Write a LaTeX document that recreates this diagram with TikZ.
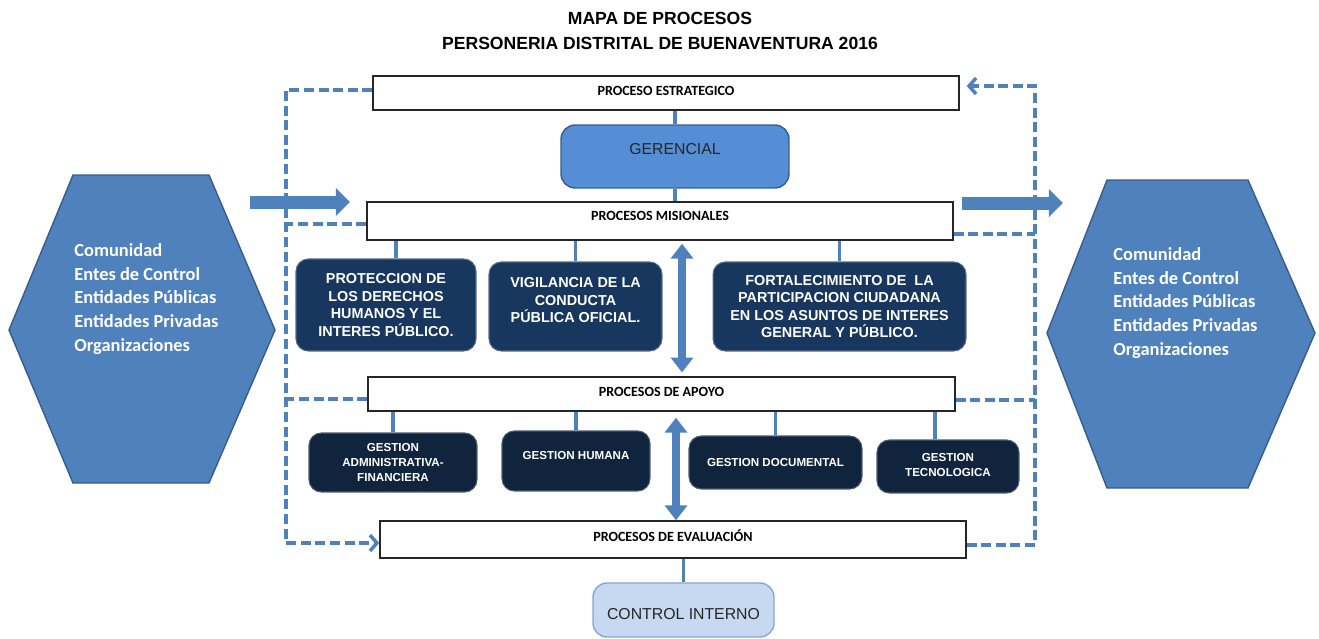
\documentclass[tikz,border=0pt]{standalone}
\usepackage{fontspec}
\setmainfont{Liberation Sans}
\newfontfamily\califont{Carlito}
\usepackage{tikz}
\usetikzlibrary{positioning,calc,arrows.meta}

\definecolor{procblue}{HTML}{4F81BD}
\definecolor{procblueD}{HTML}{385D8A}
\definecolor{gerblue}{HTML}{558ED5}
\definecolor{misnavy}{HTML}{17375E}
\definecolor{aponavy}{HTML}{10243E}
\definecolor{ctrlblue}{HTML}{C6D9F1}

\tikzset{
  titulo/.style={font=\bfseries\fontsize{10}{14.7}\selectfont, align=center, inner sep=0pt},
  banda/.style={draw=black!85, line width=0.8pt, fill=white, inner sep=0pt,
    font=\califont\bfseries\fontsize{8}{10}\selectfont},
  misbox/.style={draw=misnavy!75!white, line width=0.6pt, fill=misnavy, rounded corners=7pt,
    text=white, align=center, inner sep=0pt, font=\bfseries\fontsize{8.2}{9.9}\selectfont},
  apobox/.style={misbox, fill=aponavy, draw=aponavy!75!white,
    font=\bfseries\fontsize{6.6}{8.5}\selectfont},
  gerbox/.style={draw=procblueD, line width=0.8pt, fill=gerblue, rounded corners=8pt,
    text=black!85, inner sep=0pt, font=\fontsize{9}{10}\selectfont},
  ctrlbox/.style={gerbox, fill=ctrlblue, draw=procblue!70},
  hexa/.style={draw=procblueD, line width=0.8pt, fill=procblue},
  hextexto/.style={text=white, align=left, inner sep=0pt,
    font=\califont\bfseries\fontsize{10.5}{13.6}\selectfont},
  enlace/.style={procblue, line width=2.2pt},
  flecha/.style={procblue, line width=4.5pt,
    {Triangle[width=12.5pt,length=8.5pt]}-{Triangle[width=12.5pt,length=8.5pt]}},
  bloque/.style={procblue, line width=7.4pt, -{Triangle[width=15.5pt,length=8pt]}},
  guia/.style={procblue, line width=2pt, dash pattern=on 5.7pt off 2.6pt},
  guiaflecha/.style={guia, -{Straight Barb[length=4pt,width=9pt]}}
}

\begin{document}
\begin{tikzpicture}[x=0.02cm, y=-0.02cm]
  \useasboundingbox (0,0) rectangle (1319,639);

  % title
  \node[titulo] (tit) at (660,31) {MAPA DE PROCESOS\\PERSONERIA DISTRITAL DE BUENAVENTURA 2016};

  % process bands
  \node[banda, minimum width=11.72cm, minimum height=0.68cm, text depth=2.3pt] (estr) at (666,93) {PROCESO ESTRATEGICO};
  \node[banda, minimum width=11.72cm, minimum height=0.76cm, text depth=5.6pt] (mis) at (660,221) {PROCESOS MISIONALES};
  \node[banda, minimum width=11.74cm, minimum height=0.68cm, text depth=2.3pt] (apo) at (661.5,394) {PROCESOS DE APOYO};
  \node[banda, minimum width=11.72cm, minimum height=0.74cm, text depth=5pt] (eva) at (673,539.5) {PROCESOS DE EVALUACIÓN};

  % gerencial and control
  \node[gerbox, minimum width=4.56cm, minimum height=1.26cm, text depth=8.5pt] (ger) at (675,156.5) {GERENCIAL};
  \node[ctrlbox, minimum width=3.62cm, minimum height=1.08cm, text height=11pt] (ctrl) at (683.5,610) {CONTROL INTERNO};

  % misionales
  \node[misbox, minimum width=3.6cm, minimum height=1.84cm] (prot) at (386,305)
    {PROTECCION DE\\LOS DERECHOS\\HUMANOS Y EL\\INTERES PÚBLICO.};
  \node[misbox, minimum width=3.46cm, minimum height=1.78cm, text depth=7.4pt] (vig) at (575.5,306.5)
    {VIGILANCIA DE LA\\CONDUCTA\\PÚBLICA OFICIAL.};
  \node[misbox, minimum width=5.06cm, minimum height=1.78cm] (fort) at (839.5,306.5)
    {FORTALECIMIENTO DE\ \ LA\\PARTICIPACION CIUDADANA\\EN LOS ASUNTOS DE INTERES\\GENERAL Y PÚBLICO.};

  % apoyo
  \node[apobox, minimum width=3.36cm, minimum height=1.18cm] (adm) at (393,462.5)
    {GESTION\\ADMINISTRATIVA-\\FINANCIERA};
  \node[apobox, minimum width=2.96cm, minimum height=1.2cm, text depth=6.8pt] (hum) at (576,461) {GESTION HUMANA};
  \node[apobox, minimum width=3.46cm, minimum height=1.06cm] (doc) at (775.5,462.5) {GESTION DOCUMENTAL};
  \node[apobox, minimum width=2.84cm, minimum height=1.06cm, text depth=2pt] (tec) at (948,466.5) {GESTION\\TECNOLOGICA};

  % links
  \draw[enlace] (estr.south -| ger) -- (ger.north);
  \draw[enlace] (ger.south) -- (ger.south |- mis.north);
  \draw[enlace] ([xshift=0.2cm]prot.north) -- ([xshift=0.2cm]prot.north |- mis.south);
  \draw[enlace] (vig.north) -- (vig.north |- mis.south);
  \draw[enlace] (fort.north) -- (fort.north |- mis.south);
  \draw[enlace] (adm.north) -- (adm.north |- apo.south);
  \draw[enlace] (hum.north) -- (hum.north |- apo.south);
  \draw[enlace] (doc.north) -- (doc.north |- apo.south);
  \draw[enlace] ([xshift=-0.26cm]tec.north) -- ([xshift=-0.26cm]tec.north |- apo.south);
  \draw[enlace] (eva.south -| ctrl) -- (ctrl.north);

  % double arrows
  \coordinate (ejeA) at (682,0);
  \coordinate (ejeB) at (676,0);
  \draw[flecha, shorten <=1.7pt, shorten >=2.2pt] (mis.south -| ejeA) -- (apo.north -| ejeA);
  \draw[flecha, shorten <=3.4pt] (apo.south -| ejeB) -- (eva.north -| ejeB);

  % hexagons
  \coordinate (h1) at (73,175);
  \coordinate (h2) at (209,175);
  \coordinate (h3) at (275,330);
  \coordinate (h4) at (209,483);
  \coordinate (h5) at (73,483);
  \coordinate (h6) at (9,330);
  \draw[hexa] (h1) -- (h2) -- (h3) -- (h4) -- (h5) -- (h6) -- cycle;
  \node[hextexto, anchor=west] (comizq) at (74,299) {Comunidad\\Entes de Control\\Entidades Públicas\\Entidades Privadas\\Organizaciones};

  \coordinate (k1) at (1107,180);
  \coordinate (k2) at (1248,180);
  \coordinate (k3) at (1315,333);
  \coordinate (k4) at (1248,488);
  \coordinate (k5) at (1107,488);
  \coordinate (k6) at (1047,333);
  \draw[hexa] (k1) -- (k2) -- (k3) -- (k4) -- (k5) -- (k6) -- cycle;
  \node[hextexto, anchor=west] (comder) at (1113,303) {Comunidad\\Entes de Control\\Entidades Públicas\\Entidades Privadas\\Organizaciones};

  % in and out arrows
  \coordinate (entra) at (250,202);
  \coordinate (sale) at (1063,203);
  \draw[bloque] (entra) -- (350,202);
  \draw[bloque] (962,203) -- (sale);

  % dashed feedback
  \coordinate (lx) at (286,0);
  \coordinate (rx) at (1035,0);
  \coordinate (estrL) at ([yshift=0.06cm]estr.west);
  \coordinate (misL) at ([yshift=-0.06cm]mis.west);
  \coordinate (apoL) at ([yshift=-0.1cm]apo.west);
  \coordinate (evaL) at ([yshift=-0.07cm]eva.west);
  \draw[guiaflecha] (estrL) -- (estrL -| lx) -- (evaL -| lx) -- (evaL);
  \draw[guia] (misL) -- (misL -| lx);
  \draw[guia] (apoL) -- (apoL -| lx);

  \coordinate (estrR) at ([yshift=0.14cm]estr.east);
  \coordinate (misR) at ([yshift=-0.26cm]mis.east);
  \coordinate (apoR) at ([yshift=-0.12cm]apo.east);
  \coordinate (evaR) at ([yshift=-0.11cm]eva.east);
  \draw[guiaflecha, shorten >=4pt] (evaR) -- (evaR -| rx) -- (estrR -| rx) -- (estrR);
  \draw[guia] (misR) -- (misR -| rx);
  \draw[guia] (apoR) -- (apoR -| rx);
\end{tikzpicture}
\end{document}
